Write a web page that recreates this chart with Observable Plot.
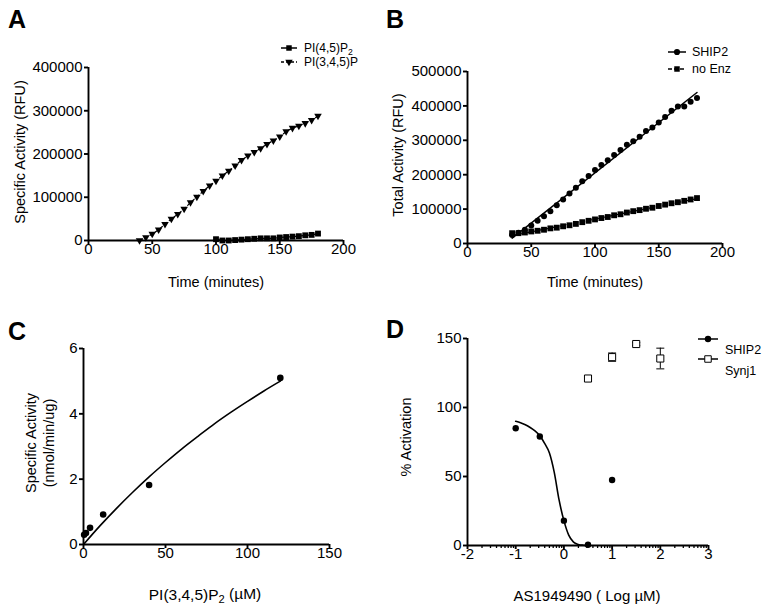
<!DOCTYPE html>
<html><head><meta charset="utf-8">
<script src="https://cdn.jsdelivr.net/npm/d3@7"></script>
<script src="https://cdn.jsdelivr.net/npm/@observablehq/plot@0.6"></script>
<style>
body{margin:0;background:#fff;}
#root{position:relative;width:771px;height:616px;overflow:hidden;background:#fff;}
</style></head><body><div id="root"></div>
<script>
// ---------- Panel A data ----------
const timeA_pip3 = [40,45,50,55,60,65,70,75,80,85,90,95,100,105,110,115,120,125,130,135,140,145,150,155,160,165,170,175,180];
const valA_pip3  = [0,7000,15000,25000,38000,50000,61000,73000,88000,101000,114000,127000,138000,150000,161000,173000,186000,196000,204000,213000,223000,231000,240000,252000,260000,265000,271000,278000,288000];
const timeA_pip2 = [100,105,110,115,120,125,130,135,140,145,150,155,160,165,170,175,180];
const valA_pip2  = [3000,0,0,1000,2000,3000,4000,5000,5000,5000,7000,8000,9000,10000,12000,13000,16000];
const xTicksA = [0,50,100,150,200];
const yTicksA = [0,100000,200000,300000,400000];

// ---------- Panel B data ----------
const timeB = [35,40,45,50,55,60,65,70,75,80,85,90,95,100,105,110,115,120,125,130,135,140,145,150,155,160,165,170,175,180];
const valB_ship2 = [25000,31000,40000,52000,66000,79000,94000,111000,128000,145000,162000,181000,196000,214000,228000,242000,257000,272000,287000,297000,310000,327000,337000,352000,368000,386000,398000,398000,412000,423000];
const valB_noEnz = [30000,30000,32000,35000,37000,40000,44000,46000,50000,53000,57000,62000,66000,70000,74000,77000,82000,85000,90000,94000,97000,101000,104000,109000,113000,117000,120000,124000,128000,132000];
const xTicksB = [0,50,100,150,200];
const yTicksB = [0,100000,200000,300000,400000,500000];

// ---------- Panel C data ----------
const concC = [0.4,1.5,4,12,40,120];
const actC  = [0.3,0.35,0.51,0.92,1.82,5.1];
const fitConcC = [0,10,20,30,40,50,60,70,80,90,100,110,120];
const fitActC  = [0,0.57,1.10,1.60,2.07,2.51,2.93,3.32,3.70,4.05,4.38,4.70,5.0];
const xTicksC = [0,50,100,150];
const yTicksC = [0,2,4,6];

// ---------- Panel D data ----------
const logD_ship2 = [-1,-0.5,0,0.5,1];
const actD_ship2 = [85,79,18,0.5,47.5];
const fitLogD = [-1,-0.9,-0.8,-0.7,-0.6,-0.5,-0.4,-0.3,-0.2,-0.1,0,0.1,0.2,0.3,0.4,0.5];
const fitActD = [90,89,87.5,85.5,83,79.5,74,67,53,33,18,7.5,2.5,0.8,0.2,0];
const logD_synj1 = [0.5,1,1.5,2];
const actD_synj1 = [121,136.5,146,135.5];
const errD_synj1 = [2,3,1,7.5];
const xTicksD = [-2,-1,0,1,2,3];
const yTicksD = [0,50,100,150];

// ---------- helpers ----------
const FONT = '"Liberation Sans", Arial, Helvetica, sans-serif';
const root = document.getElementById("root");
const zip = (xs, ys) => xs.map((x, i) => ({x, y: ys[i]}));
const AXW = 1.9;

function panel({left, top, width, height, m, xDomain, yDomain, xTicks, yTicks, marks, extraAxes = []}) {
  const p = Plot.plot({
    width, height,
    marginLeft: m[0], marginRight: m[1], marginTop: m[2], marginBottom: m[3],
    style: {fontFamily: FONT, fontSize: "15px", color: "black", background: "transparent", overflow: "visible"},
    x: {domain: xDomain},
    y: {domain: yDomain},
    marks: [
      Plot.axisX({ticks: xTicks, tickSize: 4, tickPadding: -1, label: null, tickFormat: d => String(d), strokeWidth: AXW, fontSize: 15}),
      Plot.axisY({ticks: yTicks, tickSize: 4, tickPadding: 2, label: null, tickFormat: d => String(d), strokeWidth: AXW, fontSize: 15}),
      ...extraAxes,
      Plot.ruleX([xDomain[0]], {stroke: "black", strokeWidth: AXW}),
      Plot.ruleY([yDomain[0]], {stroke: "black", strokeWidth: AXW}),
      ...marks
    ]
  });
  p.style.position = "absolute";
  p.style.left = left + "px";
  p.style.top = top + "px";
  root.append(p);
  return p;
}

// ---------- Panel A ----------
const dA2 = zip(timeA_pip2, valA_pip2);
const dA3 = zip(timeA_pip3, valA_pip3);
panel({
  left: 0, top: 0, width: 385, height: 308, m: [88, 42, 67, 68],
  xDomain: [0, 200], yDomain: [0, 400000], xTicks: xTicksA, yTicks: yTicksA,
  marks: [
    Plot.line(dA3, {x: "x", y: "y", stroke: "black", strokeWidth: 1.2, strokeDasharray: "3,3"}),
    Plot.dot(dA3, {x: "x", y: "y", symbol: "triangle", rotate: 180, r: 2.8, fill: "black"}),
    Plot.line(dA2, {x: "x", y: "y", stroke: "black", strokeWidth: 1.2}),
    Plot.dot(dA2, {x: "x", y: "y", symbol: "square", r: 3.3, fill: "black"})
  ]
});

// ---------- Panel B ----------
const dBs = zip(timeB, valB_ship2);
const dBn = zip(timeB, valB_noEnz);
panel({
  left: 385, top: 0, width: 386, height: 308, m: [82, 49, 71, 65],
  xDomain: [0, 200], yDomain: [0, 500000], xTicks: xTicksB, yTicks: yTicksB,
  marks: [
    Plot.linearRegressionY(dBn, {x: "x", y: "y", stroke: "black", strokeWidth: 1.2, strokeDasharray: "4,3", ci: 0}),
    Plot.dot(dBn, {x: "x", y: "y", symbol: "square", r: 3.3, fill: "black"}),
    Plot.linearRegressionY(dBs, {x: "x", y: "y", stroke: "black", strokeWidth: 1.5, ci: 0}),
    Plot.dot(dBs, {x: "x", y: "y", r: 3, fill: "black"})
  ]
});

// ---------- Panel C ----------
panel({
  left: 0, top: 308, width: 385, height: 308, m: [83, 56, 40, 72],
  xDomain: [0, 150], yDomain: [0, 6], xTicks: xTicksC, yTicks: yTicksC,
  marks: [
    Plot.line(zip(fitConcC, fitActC), {x: "x", y: "y", stroke: "black", strokeWidth: 1.6, curve: "monotone-x"}),
    Plot.dot(zip(concC, actC), {x: "x", y: "y", r: 3.3, fill: "black"})
  ]
});

// ---------- Panel D ----------
const minorD = [];
for (let d = -2; d < 3; d++) for (let k = 2; k <= 9; k++) minorD.push(d + Math.log10(k));
const dDs = logD_synj1.map((x, i) => ({x, y: actD_synj1[i], e: errD_synj1[i]}));
const capSymbol = {draw(ctx) { ctx.moveTo(-4, 0); ctx.lineTo(4, 0); }};
panel({
  left: 385, top: 308, width: 386, height: 308, m: [82, 63, 30, 71],
  xDomain: [-2, 3], yDomain: [0, 150], xTicks: xTicksD, yTicks: yTicksD,
  extraAxes: [Plot.axisX(minorD, {tickSize: 3, tickFormat: () => "", strokeWidth: 1.3, label: null})],
  marks: [
    Plot.line(zip(fitLogD, fitActD), {x: "x", y: "y", stroke: "black", strokeWidth: 1.6, curve: "monotone-x"}),
    Plot.dot(zip(logD_ship2, actD_ship2), {x: "x", y: "y", r: 3.2, fill: "black"}),
    Plot.ruleX(dDs, {x: "x", y1: d => d.y - d.e, y2: d => d.y + d.e, stroke: "black", strokeWidth: 1}),
    Plot.dot(dDs, {x: "x", y: d => d.y + d.e, symbol: capSymbol, stroke: "black", strokeWidth: 1}),
    Plot.dot(dDs, {x: "x", y: d => d.y - d.e, symbol: capSymbol, stroke: "black", strokeWidth: 1}),
    Plot.dot(dDs, {x: "x", y: "y", symbol: "square", r: 4, fill: "white", stroke: "black", strokeWidth: 1})
  ]
});

// ---------- overlay: panel letters, titles, legends ----------
const ov = d3.select(root).append("svg")
  .attr("width", 771).attr("height", 616)
  .style("position", "absolute").style("left", "0px").style("top", "0px")
  .style("font-family", FONT);

function txt(x, y, str, {size = 14.5, anchor = "middle", rotate = 0, weight = "normal"} = {}) {
  const t = ov.append("text")
    .attr("transform", `translate(${x},${y}) rotate(${rotate})`)
    .attr("text-anchor", anchor).attr("font-size", size).attr("font-weight", weight)
    .attr("fill", "black");
  return t;
}
function plain(x, y, str, opts) { txt(x, y, str, opts).text(str); }
function withSub(x, y, main, sub, after, opts) {
  const t = txt(x, y, "", opts);
  t.append("tspan").text(main);
  t.append("tspan").attr("dy", "0.3em").attr("font-size", "0.72em").text(sub);
  if (after) t.append("tspan").attr("dy", "-0.3em").text(after);
}

// panel letters
plain(8, 28, "A", {size: 25, anchor: "start", weight: "bold"});
plain(386, 28, "B", {size: 25, anchor: "start", weight: "bold"});
plain(8, 340, "C", {size: 25, anchor: "start", weight: "bold"});
plain(386, 338, "D", {size: 25, anchor: "start", weight: "bold"});

// axis titles
plain(24.5, 152, "Specific Activity (RFU)", {rotate: -90});
plain(216, 287, "Time (minutes)");
plain(402.5, 155, "Total Activity (RFU)", {rotate: -90});
plain(595, 287, "Time (minutes)");
plain(36, 443, "Specific Activity", {rotate: -90});
plain(54, 443, "(nmol/min/ug)", {rotate: -90});
withSub(205, 600, "PI(3,4,5)P", "2", " (\u00b5M)", {size: 15.5});
plain(411, 437, "% Activation", {rotate: -90});
plain(587, 601, "AS1949490 ( Log \u00b5M)", {size: 15});

// legend helper
function legendRow(x1, x2, y, symbol, size, fill, dash, label, tx, ty, fs, sub) {
  ov.append("line").attr("x1", x1).attr("x2", x2).attr("y1", y).attr("y2", y)
    .attr("stroke", "black").attr("stroke-width", 1.5).attr("stroke-dasharray", dash || null);
  ov.append("path").attr("d", d3.symbol(symbol.type, size)())
    .attr("transform", `translate(${(x1 + x2) / 2},${y}) rotate(${symbol.rot || 0})`)
    .attr("fill", fill).attr("stroke", "black").attr("stroke-width", fill === "white" ? 1 : 0);
  if (sub) withSub(tx, ty, label, sub, null, {size: fs, anchor: "start"});
  else plain(tx, ty, label, {size: fs, anchor: "start"});
}
// A legend
legendRow(281, 297, 48, {type: d3.symbolSquare}, 30, "black", null, "PI(4,5)P", 304, 52, 12, "2");
legendRow(281, 297, 62, {type: d3.symbolTriangle, rot: 180}, 24, "black", "3,2", "PI(3,4,5)P", 304, 66, 12);
// B legend
legendRow(668, 686, 52, {type: d3.symbolCircle}, 30, "black", null, "SHIP2", 692, 56, 12.5);
legendRow(668, 686, 69, {type: d3.symbolSquare}, 30, "black", "4,2", "no Enz", 692, 73, 12.5);
// D legend
legendRow(698, 718, 339, {type: d3.symbolCircle}, 32, "black", null, "SHIP2", 725, 354, 12.5);
legendRow(698, 718, 359, {type: d3.symbolSquare}, 42, "white", null, "Synj1", 725, 375, 12.5);
</script></body></html>
